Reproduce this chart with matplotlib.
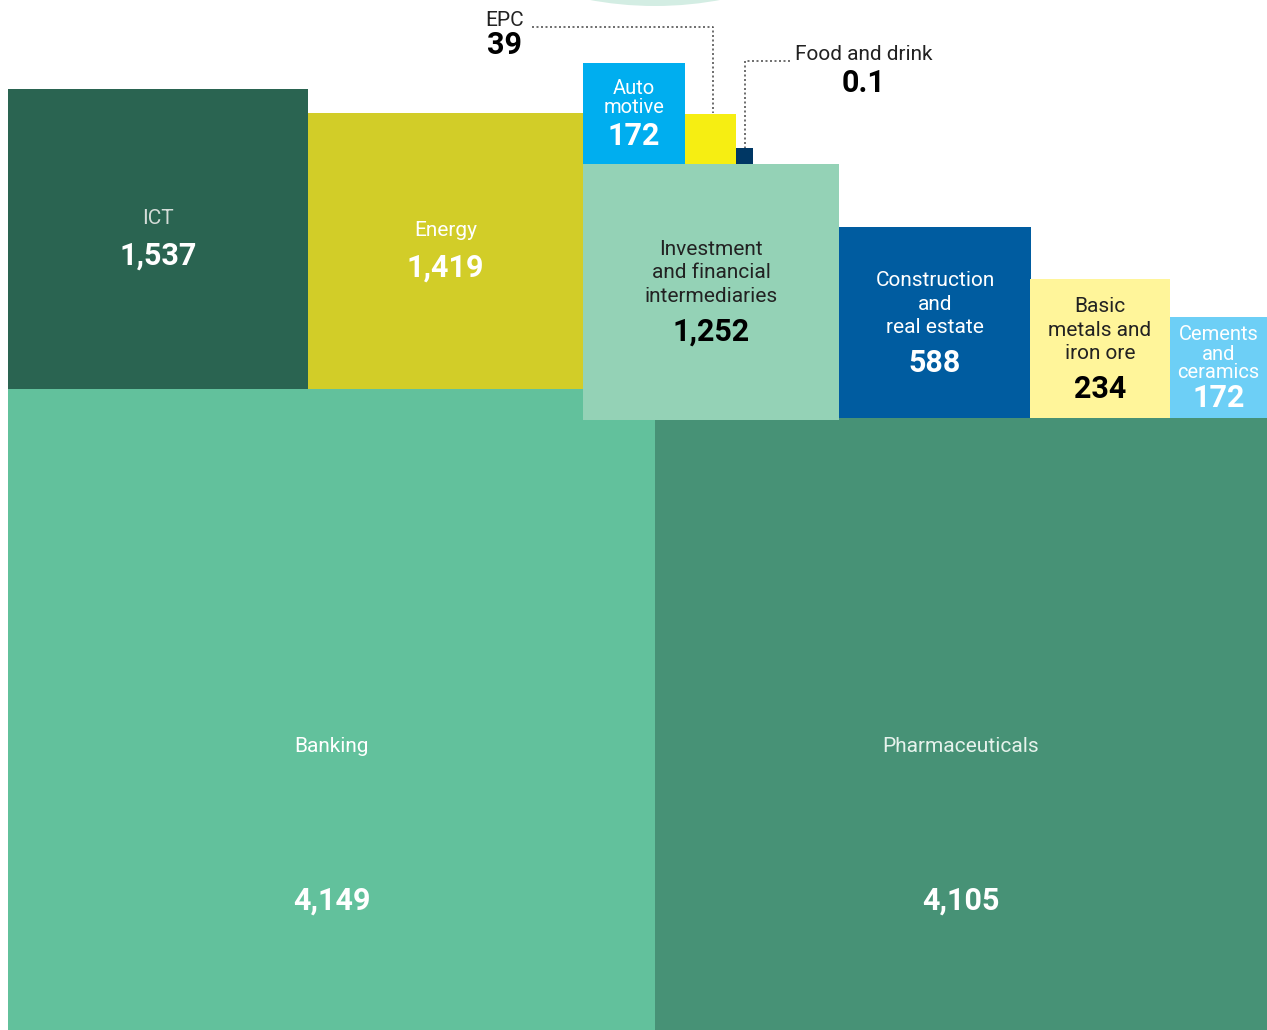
import matplotlib.pyplot as plt
from matplotlib.patches import Rectangle, Circle

plt.rcParams['font.family'] = ['Roboto', 'DejaVu Sans']

# sectors and their totals
sectors = ["ICT", "Energy", "Auto\nmotive", "EPC", "Food and drink",
           "Investment\nand financial\nintermediaries", "Construction\nand\nreal estate",
           "Basic\nmetals and\niron ore", "Cements\nand\nceramics",
           "Banking", "Pharmaceuticals"]
values = [1537, 1419, 172, 39, 0.1, 1252, 588, 234, 172, 4149, 4105]

# block layout (left, top, width, height) in canvas pixels
layout = [
    (8, 89, 300, 300),
    (308, 113, 275, 276),
    (583, 63, 102, 101),
    (685, 114, 51, 50),
    (736, 148, 17, 16),
    (583, 164, 256, 256),
    (839, 227, 192, 191),
    (1030, 279, 140, 139),
    (1170, 317, 97, 101),
    (8, 389, 647, 641),
    (655, 418, 612, 612),
]
colors = ["#2a6451", "#d2cd28", "#00aeef", "#f6ee12", "#003764", "#94d2b6",
          "#005ca0", "#fff59a", "#6dcff6", "#62c19c", "#479276"]


def fmt(v):
    return f"{v:,}" if v >= 1 else f"{v}"


fig = plt.figure(figsize=(12.67, 10.30), dpi=100)
ax = fig.add_axes([0, 0, 1, 1])
ax.set_xlim(0, 1267)
ax.set_ylim(1030, 0)
ax.axis("off")

# pale disc peeking in at the top edge
ax.add_patch(Circle((655, -349), 355, color="#d3ede3", lw=0))

# the two big blocks go underneath, the upper row overlaps them slightly
order = [9, 10, 0, 1, 2, 3, 4, 5, 6, 7, 8]
for i in order:
    x, y, w, h = layout[i]
    ax.add_patch(Rectangle((x, y), w, h, facecolor=colors[i], edgecolor="none"))

label_size = 15
value_size = 22


def block_text(i, label_y, value_y, lcol, vcol, ls=1.3, lsize=label_size, vsize=value_size):
    x, y, w, h = layout[i]
    cx = x + w / 2
    ax.text(cx, label_y, sectors[i], ha="center", va="center", color=lcol,
            fontsize=lsize, linespacing=ls)
    ax.text(cx, value_y, fmt(values[i]), ha="center", va="center", color=vcol,
            fontsize=vsize, fontweight="bold")


block_text(0, 218, 256, "#d4dcd8", "white")
block_text(1, 230, 268, "white", "white")
block_text(2, 98, 136, "white", "white", ls=1.05, lsize=14.5)
block_text(5, 273, 332, "#222222", "black")
block_text(6, 304, 363, "white", "white")
block_text(7, 330, 389, "#222222", "black")
block_text(8, 354, 398, "white", "white", ls=1.0, lsize=14.5)
block_text(9, 747, 901, "white", "white")
block_text(10, 747, 901, "#e6f2ec", "white")

# callouts for the two tiny blocks
ax.text(505, 20, sectors[3], ha="center", va="center", color="#222222",
        fontsize=label_size)
ax.text(505, 45, fmt(values[3]), ha="center", va="center", color="black",
        fontsize=value_size, fontweight="bold")
ex, ey, ew, eh = layout[3]
ax.plot([532, ex + 28, ex + 28], [27, 27, ey - 1], color="#555555", lw=1.2,
        ls=(0, (1.2, 1.5)))

ax.text(864, 54, sectors[4], ha="center", va="center", color="#222222",
        fontsize=label_size)
ax.text(864, 83, fmt(values[4]), ha="center", va="center", color="black",
        fontsize=value_size, fontweight="bold")
fx, fy, fw, fh = layout[4]
ax.plot([790, fx + 9, fx + 9], [61, 61, fy], color="#555555", lw=1.2,
        ls=(0, (1.2, 1.5)))

fig.savefig("out.png", dpi=100)
